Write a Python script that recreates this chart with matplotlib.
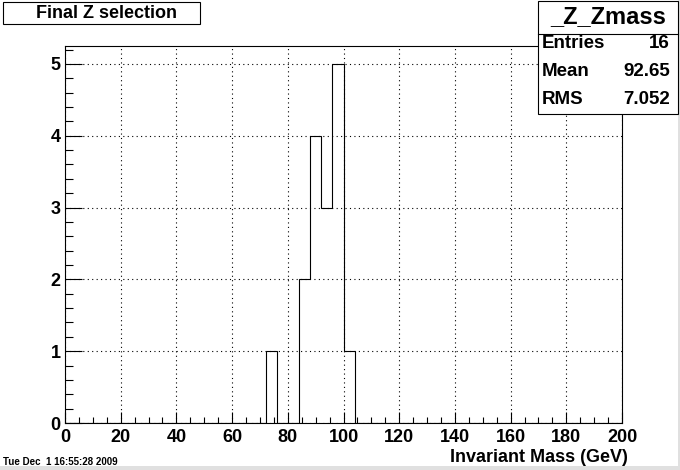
import numpy as np
import matplotlib
matplotlib.use('Agg')
import matplotlib.pyplot as plt
from matplotlib.patches import Rectangle
from matplotlib.ticker import MultipleLocator

plt.rcParams['font.family'] = 'Liberation Sans'
plt.rcParams['font.weight'] = 'bold'

# === data: _Z_Zmass, 50 bins from 0 to 200 GeV ===
n_bins = 50
x_min, x_max = 0, 200
bin_low = np.array([72, 84, 88, 92, 96, 100])
bin_counts = np.array([1, 2, 4, 3, 5, 1])

hist_title = "Final Z selection"
hist_name = "_Z_Zmass"
stat_names = ["Entries", "Mean", "RMS"]
stat_values = ["16", "92.65", "7.052"]
x_label = "Invariant Mass (GeV)"
date_text = "Tue Dec  1 16:55:28 2009"

W, H = 680, 470
fig = plt.figure(figsize=(W / 100, H / 100), dpi=100)
fig.patch.set_facecolor('white')

def fx(px):
    return px / W

def fy(py):
    return 1 - py / H

# frame: x 65..622, y 46..423 (pixels)
ax = fig.add_axes([fx(65), fy(423), fx(622 - 65), (423 - 46) / H])

edges = np.linspace(x_min, x_max, n_bins + 1)
bin_w = (x_max - x_min) / n_bins
ax.hist(bin_low + bin_w / 2, bins=edges, weights=bin_counts, histtype='step',
        color='black', lw=0.8)

ax.set_xlim(x_min, x_max)
ax.set_ylim(0, 1.05 * bin_counts.max())

ax.xaxis.set_major_locator(MultipleLocator(20))
ax.xaxis.set_minor_locator(MultipleLocator(5))
ax.yaxis.set_major_locator(MultipleLocator(1))
ax.yaxis.set_minor_locator(MultipleLocator(0.2))

ax.tick_params(axis='y', which='major', direction='in', length=12.2, width=0.8,
               labelsize=13, pad=3)
ax.tick_params(axis='y', which='minor', direction='in', length=6.1, width=0.8)
ax.tick_params(axis='x', which='major', direction='in', length=8.1, width=0.8,
               labelsize=13, pad=4)
ax.tick_params(axis='x', which='minor', direction='in', length=4.1, width=0.8)
for lab in ax.get_xticklabels() + ax.get_yticklabels():
    lab.set_fontweight('bold')

ax.grid(True, which='major', color='black', linestyle=(0, (1, 3)), lw=0.8)
for sp in ax.spines.values():
    sp.set_linewidth(0.8)

fig.text(fx(628), fy(457), x_label, ha='right', va='center', fontsize=13,
         fontweight='bold')

# title box
fig.add_artist(Rectangle((fx(3), fy(24)), fx(197), 22 / H, transform=fig.transFigure,
                         fill=False, edgecolor='black', lw=0.8))
fig.text(fx(107), fy(13), hist_title, ha='center', va='center', fontsize=13,
         fontweight='bold')

# stats box
fig.add_artist(Rectangle((fx(538), fy(114)), fx(140), 113 / H, transform=fig.transFigure,
                         facecolor='white', edgecolor='black', lw=0.8, zorder=5))
fig.add_artist(plt.Line2D([fx(538), fx(678)], [fy(34), fy(34)], transform=fig.transFigure,
                          color='black', lw=0.8, zorder=6))
fig.text(fx(608), fy(17), hist_name, ha='center', va='center', fontsize=17,
         fontweight='bold', zorder=7)
for i, (nm, val) in enumerate(zip(stat_names, stat_values)):
    yy = fy(44 + 28 * i)
    fig.text(fx(542), yy, nm, ha='left', va='center', fontsize=13.5,
             fontweight='bold', zorder=7)
    fig.text(fx(670), yy, val, ha='right', va='center', fontsize=13.5,
             fontweight='bold', zorder=7)

# date stamp and grey canvas border
fig.text(fx(3), fy(462), date_text, ha='left', va='center', fontsize=7,
         fontweight='bold')
fig.add_artist(Rectangle((0, 0), 1, 4 / H, transform=fig.transFigure,
                         facecolor='#e0e0e0', edgecolor='none'))
fig.add_artist(Rectangle((fx(678), 0), fx(2), 1, transform=fig.transFigure,
                         facecolor='#e0e0e0', edgecolor='none'))

plt.savefig("out.png", dpi=100)
